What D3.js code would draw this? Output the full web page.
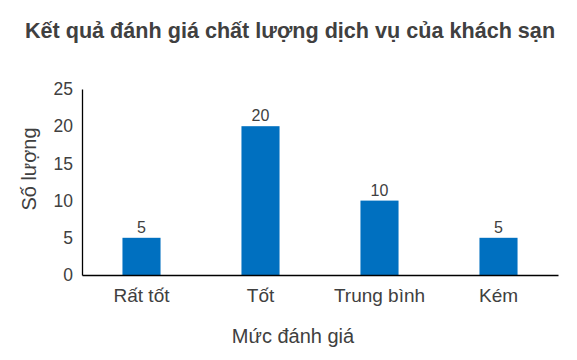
<!DOCTYPE html>
<html>
<head>
<meta charset="utf-8">
<script src="https://cdn.jsdelivr.net/npm/d3@7"></script>
<style>
  body { margin: 0; background: #fff; }
  svg { display: block; font-family: "Liberation Sans", Arial, sans-serif; }
</style>
</head>
<body>
<div id="chart"></div>
<script>
// Chart data
const categories = ['Rất tốt', 'Tốt', 'Trung bình', 'Kém'];
const values = [5, 20, 10, 5];
const yTicks = [0, 5, 10, 15, 20, 25];

const width = 577, height = 360;
const margin = { top: 89, right: 19, bottom: 85, left: 82 };

const svg = d3.select('#chart').append('svg')
    .attr('width', width)
    .attr('height', height);

const x = d3.scaleBand()
    .domain(categories)
    .range([margin.left, width - margin.right])
    .paddingInner(0.68)
    .paddingOuter(0.34);

const y = d3.scaleLinear()
    .domain([0, 25])
    .range([height - margin.bottom, margin.top]);

// Title
svg.append('text')
    .attr('x', 290)
    .attr('y', 38)
    .attr('text-anchor', 'middle')
    .style('font-size', '21.6px')
    .style('font-weight', 'bold')
    .style('fill', '#404040')
    .text('Kết quả đánh giá chất lượng dịch vụ của khách sạn');

// Y axis
const yAxis = svg.append('g')
    .attr('transform', `translate(${margin.left},0)`)
    .call(d3.axisLeft(y).tickValues(yTicks).tickSize(0).tickPadding(9));
yAxis.select('.domain').attr('stroke', '#000').attr('stroke-width', 1.3);
yAxis.selectAll('text').style('font-size', '17.5px').style('fill', '#404040')
    .style('font-family', '"Liberation Sans", Arial, sans-serif');

// Bars
svg.selectAll('.bar')
    .data(values)
    .join('rect')
    .attr('class', 'bar')
    .attr('x', (d, i) => x(categories[i]))
    .attr('y', d => y(d))
    .attr('width', x.bandwidth())
    .attr('height', d => y(0) - y(d))
    .attr('fill', '#0070C0');

// Value labels
svg.selectAll('.label')
    .data(values)
    .join('text')
    .attr('class', 'label')
    .attr('x', (d, i) => x(categories[i]) + x.bandwidth() / 2)
    .attr('y', d => y(d) - 5)
    .attr('text-anchor', 'middle')
    .style('font-size', '16px')
    .style('fill', '#404040')
    .text(d => d);

// X axis
const xAxis = svg.append('g')
    .attr('transform', `translate(0,${height - margin.bottom})`)
    .call(d3.axisBottom(x).tickSize(0).tickPadding(14));
xAxis.select('.domain').attr('stroke', '#000').attr('stroke-width', 1.3);
xAxis.selectAll('text').style('font-size', '19px').style('fill', '#404040')
    .style('font-family', '"Liberation Sans", Arial, sans-serif');

// Axis titles
svg.append('text')
    .attr('transform', 'translate(36,169) rotate(-90)')
    .attr('text-anchor', 'middle')
    .style('font-size', '20px')
    .style('fill', '#404040')
    .text('Số lượng');

svg.append('text')
    .attr('x', 293)
    .attr('y', 343)
    .attr('text-anchor', 'middle')
    .style('font-size', '20px')
    .style('fill', '#404040')
    .text('Mức đánh giá');
</script>
</body>
</html>
